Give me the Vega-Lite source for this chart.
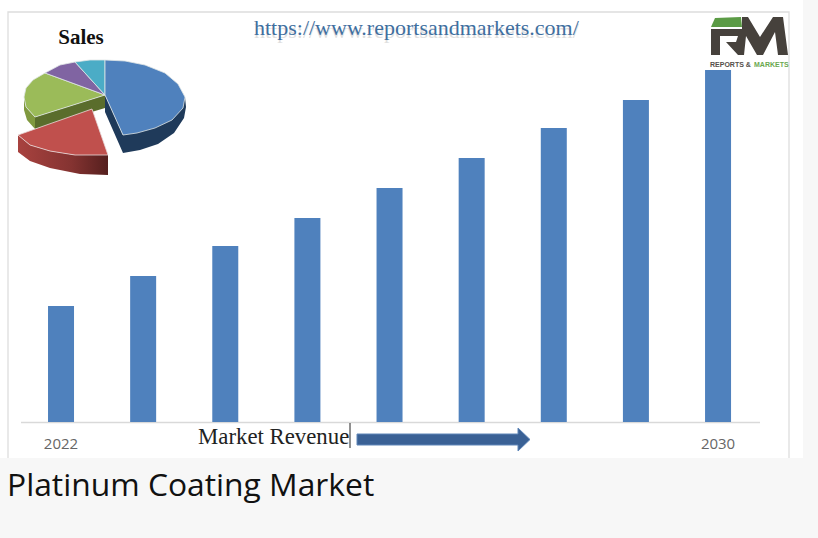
{
"$schema":"https://vega.github.io/schema/vega-lite/v6.json",
"width":818,"height":538,"autosize":{"type":"fit","contains":"padding"},"padding":0,
"background":"#f7f7f7","config":{"view":{"stroke":null}},
"encoding":{
 "x":{"field":"x","type":"quantitative","scale":{"domain":[0,818],"nice":false,"zero":false},"axis":null},
 "y":{"field":"y","type":"quantitative","scale":{"domain":[538,0],"nice":false,"zero":false},"axis":null}
},
"resolve":{"scale":{"x":"independent","y":"independent","fill":"independent"}},
"layer":[
 {"data":{"values":[{"x":0,"x2":803,"y":0,"y2":458}]},"mark":{"type":"rect","fill":"#ffffff"},"encoding":{"x2":{"field":"x2"},"y2":{"field":"y2"}}},
 {"data":{"values":[{"side":"a","i":0,"x":8,"y":458},{"side":"a","i":1,"x":8,"y":12},{"side":"a","i":2,"x":789,"y":12},{"side":"a","i":3,"x":789,"y":458}]},"mark":{"type":"line","stroke":"#dddddd","strokeWidth":1.3},"encoding":{"order":{"field":"i"},"detail":{"field":"side"}}},
 {"data":{"values":[{"side":"base","i":0,"x":21,"y":422.5},{"side":"base","i":1,"x":760,"y":422.5}]},"mark":{"type":"line","stroke":"#d9d9d9","strokeWidth":1.3},"encoding":{"order":{"field":"i"},"detail":{"field":"side"}}},
 {"data":{"values":[{"year":2022,"revenue":1.16},{"year":2023,"revenue":1.46},{"year":2024,"revenue":1.76},{"year":2025,"revenue":2.04},{"year":2026,"revenue":2.34},{"year":2027,"revenue":2.64},{"year":2028,"revenue":2.94},{"year":2029,"revenue":3.22},{"year":2030,"revenue":3.52}]},
  "mark":{"type":"bar","width":26,"fill":"#4f81bd"},
  "encoding":{"x":{"field":"year","type":"quantitative","scale":{"domain":[2021.257,2031.217],"nice":false,"zero":false,"padding":0},"axis":null},
   "y":{"field":"revenue","type":"quantitative","scale":{"domain":[-1.16,4.22],"nice":false,"zero":false},"axis":null}}},
 {"data":{"values":[{"year":2022,"pos":-0.22},{"year":2030,"pos":-0.22}]},
  "mark":{"type":"text","font":"Open Sans","fontSize":15,"fill":"#666666","baseline":"middle"},
  "encoding":{"x":{"field":"year","type":"quantitative","scale":{"domain":[2021.257,2031.217],"nice":false,"zero":false},"axis":null},
   "y":{"field":"pos","type":"quantitative","scale":{"domain":[-1.16,4.22],"nice":false,"zero":false},"axis":null},
   "text":{"field":"year","type":"nominal"}}},
 {"data":{"values":[
  {"part":"greenwall","i":0,"x":24,"y":97},{"part":"greenwall","i":1,"x":26,"y":107},{"part":"greenwall","i":2,"x":35,"y":117},{"part":"greenwall","i":3,"x":35,"y":129},{"part":"greenwall","i":4,"x":27,"y":120},{"part":"greenwall","i":5,"x":24,"y":110},
  {"part":"greencut","i":0,"x":105,"y":95},{"part":"greencut","i":1,"x":35,"y":117},{"part":"greencut","i":2,"x":35,"y":129},{"part":"greencut","i":3,"x":105,"y":108},
  {"part":"bluewall","i":0,"x":185,"y":97},{"part":"bluewall","i":1,"x":123,"y":135},{"part":"bluewall","i":2,"x":105,"y":95},{"part":"bluewall","i":3,"x":105,"y":112},{"part":"bluewall","i":4,"x":123,"y":153},{"part":"bluewall","i":5,"x":140,"y":150},{"part":"bluewall","i":6,"x":158,"y":144},{"part":"bluewall","i":7,"x":174,"y":133},{"part":"bluewall","i":8,"x":184,"y":118},{"part":"bluewall","i":9,"x":186,"y":107}
 ]},"mark":{"type":"line","strokeWidth":0},
 "encoding":{"order":{"field":"i"},"detail":{"field":"part"},"fill":{"field":"part","type":"nominal","scale":{"domain":["greenwall","greencut","bluewall"],"range":["#80993f","#5a6d2c","#1f3a5a"]},"legend":null}}},
 {"data":{"values":[
  {"part":"green","i":0,"x":105,"y":95},{"part":"green","i":1,"x":45,"y":73},{"part":"green","i":2,"x":33,"y":80},{"part":"green","i":3,"x":26,"y":88},{"part":"green","i":4,"x":24,"y":97},{"part":"green","i":5,"x":26,"y":107},{"part":"green","i":6,"x":35,"y":117},{"part":"green","i":7,"x":105,"y":95},
  {"part":"purple","i":0,"x":105,"y":95},{"part":"purple","i":1,"x":75,"y":62},{"part":"purple","i":2,"x":60,"y":65},{"part":"purple","i":3,"x":45,"y":73},{"part":"purple","i":4,"x":105,"y":95},
  {"part":"teal","i":0,"x":105,"y":95},{"part":"teal","i":1,"x":105,"y":60},{"part":"teal","i":2,"x":90,"y":60},{"part":"teal","i":3,"x":75,"y":62},{"part":"teal","i":4,"x":105,"y":95},
  {"part":"blue","i":0,"x":105,"y":95},{"part":"blue","i":1,"x":105,"y":60},{"part":"blue","i":2,"x":125,"y":61},{"part":"blue","i":3,"x":145,"y":65},{"part":"blue","i":4,"x":165,"y":73},{"part":"blue","i":5,"x":178,"y":84},{"part":"blue","i":6,"x":185,"y":97},{"part":"blue","i":7,"x":183,"y":108},{"part":"blue","i":8,"x":172,"y":120},{"part":"blue","i":9,"x":155,"y":128},{"part":"blue","i":10,"x":137,"y":133},{"part":"blue","i":11,"x":123,"y":135},{"part":"blue","i":12,"x":105,"y":95}
 ]},"mark":{"type":"line","stroke":"#dfe6e6","strokeWidth":0.8},
 "encoding":{"order":{"field":"i"},"detail":{"field":"part"},"fill":{"field":"part","type":"nominal","scale":{"domain":["green","purple","teal","blue"],"range":["#9bbb59","#8064a2","#4bacc6","#4f81bd"]},"legend":null}}},
 {"data":{"values":[
  {"part":"redwall","i":0,"x":18,"y":135},{"part":"redwall","i":1,"x":30,"y":145},{"part":"redwall","i":2,"x":50,"y":151},{"part":"redwall","i":3,"x":75,"y":155},{"part":"redwall","i":4,"x":108,"y":155},{"part":"redwall","i":5,"x":108,"y":175},{"part":"redwall","i":6,"x":80,"y":174},{"part":"redwall","i":7,"x":50,"y":168},{"part":"redwall","i":8,"x":30,"y":161},{"part":"redwall","i":9,"x":18,"y":152}
 ]},"mark":{"type":"line","strokeWidth":0,"fill":{"gradient":"linear","x1":0,"x2":1,"y1":0,"y2":0,"stops":[{"offset":0,"color":"#a8423f"},{"offset":0.6,"color":"#843331"},{"offset":1,"color":"#551f1e"}]}},
 "encoding":{"order":{"field":"i"},"detail":{"field":"part"}}},
 {"data":{"values":[
  {"part":"red","i":0,"x":92,"y":109},{"part":"red","i":1,"x":18,"y":135},{"part":"red","i":2,"x":30,"y":145},{"part":"red","i":3,"x":50,"y":151},{"part":"red","i":4,"x":75,"y":155},{"part":"red","i":5,"x":108,"y":155},{"part":"red","i":6,"x":92,"y":109}
 ]},"mark":{"type":"line","stroke":"#e8dada","strokeWidth":0.8,"fill":"#c0504d"},
 "encoding":{"order":{"field":"i"},"detail":{"field":"part"}}},
 {"data":{"values":[{"part":"arrow","i":0,"x":357,"y":434},{"part":"arrow","i":1,"x":518,"y":434},{"part":"arrow","i":2,"x":518,"y":428},{"part":"arrow","i":3,"x":530,"y":439.5},{"part":"arrow","i":4,"x":518,"y":451},{"part":"arrow","i":5,"x":518,"y":445},{"part":"arrow","i":6,"x":357,"y":445},{"part":"arrow","i":7,"x":357,"y":434}]},
  "mark":{"type":"line","stroke":"#5f86b8","strokeWidth":1,"fill":"#3a6195"},"encoding":{"order":{"field":"i"},"detail":{"field":"part"}}},
 {"data":{"values":[{"part":"cursor","i":0,"x":350,"y":423},{"part":"cursor","i":1,"x":350,"y":448}]},"mark":{"type":"line","stroke":"#222222","strokeWidth":1},"encoding":{"order":{"field":"i"},"detail":{"field":"part"}}},
 {"data":{"values":[
  {"part":"swoosh","i":0,"x":711,"y":27},{"part":"swoosh","i":1,"x":715,"y":18},{"part":"swoosh","i":2,"x":741,"y":17},{"part":"swoosh","i":3,"x":742,"y":27},
  {"part":"r1","i":0,"x":711,"y":29},{"part":"r1","i":1,"x":742,"y":29},{"part":"r1","i":2,"x":742,"y":17},{"part":"r1","i":3,"x":748,"y":17},{"part":"r1","i":4,"x":760,"y":37},{"part":"r1","i":5,"x":773,"y":17},{"part":"r1","i":6,"x":783,"y":17},{"part":"r1","i":7,"x":788,"y":55},{"part":"r1","i":8,"x":778,"y":55},{"part":"r1","i":9,"x":775,"y":32},{"part":"r1","i":10,"x":763,"y":55},{"part":"r1","i":11,"x":757,"y":55},{"part":"r1","i":12,"x":746,"y":36},{"part":"r1","i":13,"x":744,"y":55},{"part":"r1","i":14,"x":738,"y":55},{"part":"r1","i":15,"x":726,"y":42},{"part":"r1","i":16,"x":736,"y":42},{"part":"r1","i":17,"x":738,"y":36},{"part":"r1","i":18,"x":711,"y":36},
  {"part":"r2","i":0,"x":711,"y":36},{"part":"r2","i":1,"x":720,"y":36},{"part":"r2","i":2,"x":720,"y":55},{"part":"r2","i":3,"x":711,"y":55}
 ]},"mark":{"type":"line","strokeWidth":0},
 "encoding":{"order":{"field":"i"},"detail":{"field":"part"},"fill":{"field":"part","type":"nominal","scale":{"domain":["swoosh","r1","r2"],"range":["#5b9b45","#46413c","#46413c"]},"legend":null}}},
 {"data":{"values":[{"t":"REPORTS &","x":710,"y":65}]},"mark":{"type":"text","font":"Liberation Sans","fontSize":7,"fontWeight":"bold","fill":"#55504b","align":"left","baseline":"middle"},"encoding":{"text":{"field":"t"}}},
 {"data":{"values":[{"t":"MARKETS","x":754,"y":65}]},"mark":{"type":"text","font":"Liberation Sans","fontSize":7,"fontWeight":"bold","fill":"#6aa84f","align":"left","baseline":"middle"},"encoding":{"text":{"field":"t"}}},
 {"data":{"values":[{"t":"Sales","x":81,"y":38}]},"mark":{"type":"text","font":"Liberation Serif","fontSize":21,"fontWeight":"bold","fill":"#111111","baseline":"middle"},"encoding":{"text":{"field":"t"}}},
 {"data":{"values":[{"t":"https://www.reportsandmarkets.com/","x":254,"y":31}]},"mark":{"type":"text","font":"Liberation Serif","fontSize":22,"fill":"#999999","opacity":0.3,"align":"left","baseline":"middle"},"encoding":{"text":{"field":"t"}}},
 {"data":{"values":[{"t":"https://www.reportsandmarkets.com/","x":254,"y":28}]},"mark":{"type":"text","font":"Liberation Serif","fontSize":22,"fill":"#3f6f9f","align":"left","baseline":"middle"},"encoding":{"text":{"field":"t"}}},
 {"data":{"values":[{"t":"Market Revenue","x":198,"y":437}]},"mark":{"type":"text","font":"Liberation Serif","fontSize":22.8,"fill":"#222222","align":"left","baseline":"middle"},"encoding":{"text":{"field":"t"}}},
 {"data":{"values":[{"t":"Platinum Coating Market","x":7,"y":486}]},"mark":{"type":"text","font":"Open Sans","fontSize":31.8,"fill":"#111111","align":"left","baseline":"middle"},"encoding":{"text":{"field":"t"}}}
]}
